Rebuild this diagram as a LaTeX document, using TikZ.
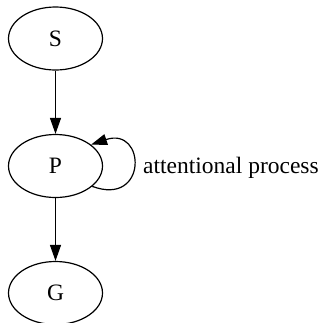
\documentclass[tikz,border=0pt]{standalone}
\usepackage{fontspec}
\setmainfont{Liberation Serif}
\usetikzlibrary{arrows.meta,shapes.geometric}
\begin{document}
\begin{tikzpicture}[x=1pt,y=-1pt,
  state/.style={ellipse,draw,line width=1.2pt,minimum width=94pt,minimum height=63pt,inner sep=0pt,
    font=\fontsize{23.5}{26}\selectfont},
  edge/.style={line width=1.2pt,-{Triangle[length=16pt,width=11pt]}}]
  \useasboundingbox (0,0) rectangle (323,322);
  % states
  \node[state] (S) at (55.5,38.5) {S};
  \node[state] (P) at (55.5,166) {P};
  \node[state] (G) at (55.5,293) {G};
  % transitions
  \draw[edge] (S) -- (P);
  \draw[edge] (P) -- (G);
  \draw[edge] (P.-29) .. controls (148,207) and (146,126) .. (P.31);
  \node[anchor=base west,inner sep=0pt,font=\fontsize{23.5}{26}\selectfont] (lbl) at (143,173) {attentional process};
\end{tikzpicture}
\end{document}
